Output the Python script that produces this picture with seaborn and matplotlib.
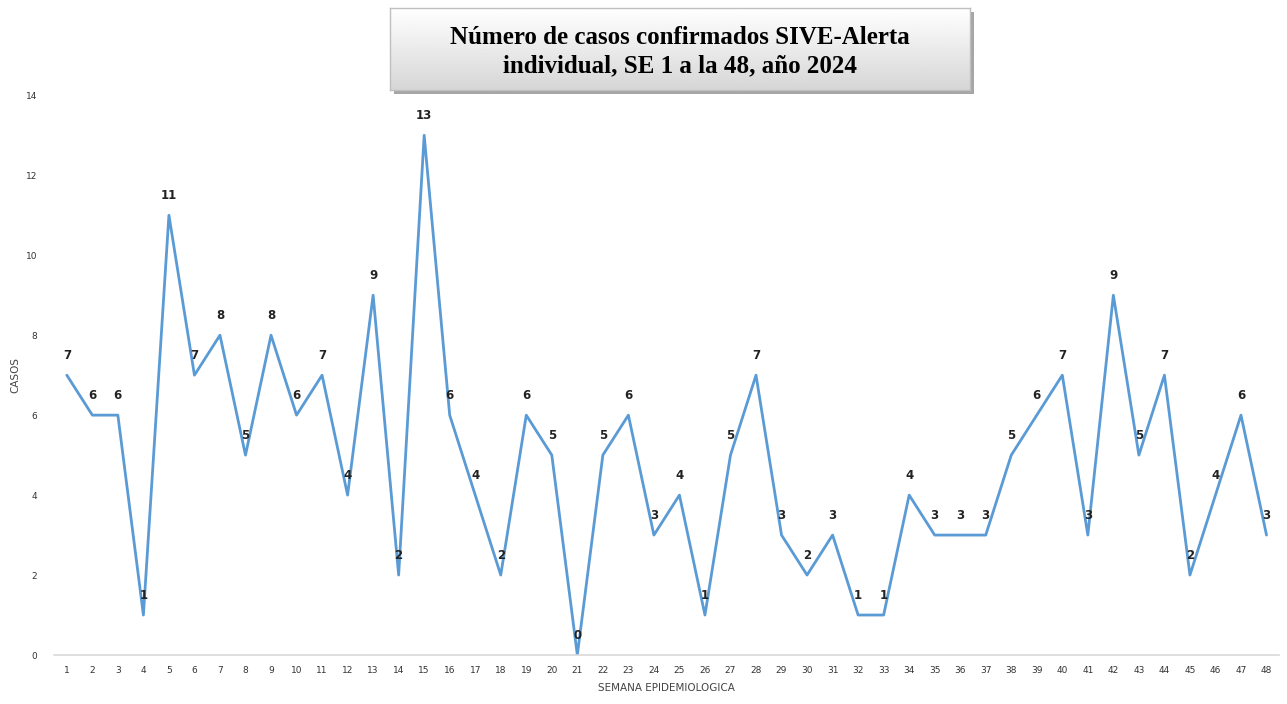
import numpy as np
import pandas as pd
import matplotlib
matplotlib.use('Agg')
import matplotlib.pyplot as plt
import seaborn as sns
from matplotlib.patches import Rectangle

semanas = list(range(1, 49))
casos = [7, 6, 6, 1, 11, 7, 8, 5, 8, 6, 7, 4, 9, 2, 13, 6, 4, 2, 6, 5,
         0, 5, 6, 3, 4, 1, 5, 7, 3, 2, 3, 1, 1, 4, 3, 3, 3, 5, 6, 7,
         3, 9, 5, 7, 2, 4, 6, 3]
titulo = "Número de casos confirmados SIVE-Alerta\nindividual, SE 1 a la 48, año 2024"

df = pd.DataFrame({'semana': semanas, 'casos': casos})

sns.set_style('white')
plt.rcParams['font.family'] = ['DejaVu Sans']

fig = plt.figure(figsize=(12.87, 7.04), dpi=100)
ax = fig.add_axes([0.042, 0.0696, 0.952, 0.795])

sns.lineplot(data=df, x='semana', y='casos', ax=ax, color='#5B9BD5', linewidth=2.0)

# etiquetas de datos
for s, c in zip(semanas, casos):
    ax.annotate(str(c), (s, c), xytext=(0, 14), textcoords='offset points',
                ha='center', va='center', fontsize=8.5, fontweight='bold', color='#222222')

ax.set_xlim(0.5, 48.5)
ax.set_ylim(0, 14)
ax.set_xticks(semanas)
ax.set_yticks(range(0, 15, 2))
ax.tick_params(axis='both', length=0, labelsize=6.5, labelcolor='#333333')
ax.tick_params(axis='x', pad=8)
ax.tick_params(axis='y', pad=12)
for sp in ['top', 'right', 'left']:
    ax.spines[sp].set_visible(False)
ax.spines['bottom'].set_color('#d9d9d9')
ax.spines['bottom'].set_linewidth(1.2)
ax.set_xlabel('SEMANA EPIDEMIOLOGICA', fontsize=7.5, color='#444444', labelpad=6)
ax.set_ylabel('CASOS', fontsize=7.5, color='#444444', labelpad=4)

# caja del titulo con sombra y degradado
x0, y0, w, h = 390 / 1287, 1 - 90 / 704, 580 / 1287, 82 / 704
sombra = fig.add_axes([x0 + 4 / 1287, y0 - 4 / 704, w, h], zorder=2)
sombra.add_patch(Rectangle((0, 0), 1, 1, facecolor='#a6a6a6', edgecolor='none'))
sombra.set_axis_off()
tax = fig.add_axes([x0, y0, w, h], zorder=3)
grad = np.linspace(1.0, 0.84, 100).reshape(-1, 1)
tax.imshow(grad, aspect='auto', cmap='gray', vmin=0, vmax=1, extent=[0, 1, 0, 1])
tax.set_xticks([])
tax.set_yticks([])
for sp in tax.spines.values():
    sp.set_color('#bfbfbf')
    sp.set_linewidth(1)
tax.text(0.5, 0.47, titulo, ha='center', va='center', fontsize=18, fontweight='bold',
         family='Liberation Serif', color='black', linespacing=1.32, transform=tax.transAxes)

fig.savefig('out.png', dpi=100)
